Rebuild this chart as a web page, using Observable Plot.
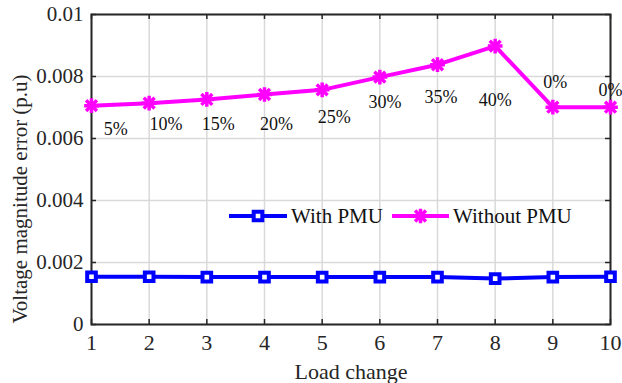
<!DOCTYPE html>
<html>
<head>
<meta charset="utf-8">
<script src="https://cdn.jsdelivr.net/npm/d3@7"></script>
<script src="https://cdn.jsdelivr.net/npm/@observablehq/plot@0.6"></script>
<style>
  html, body { margin: 0; padding: 0; background: #fff; }
  #chart { position: relative; width: 622px; height: 383px; }
</style>
</head>
<body>
<div id="chart"></div>
<script>
// ---- data ----
const loadChange = [1, 2, 3, 4, 5, 6, 7, 8, 9, 10];
const withPMU = [0.00154, 0.00154, 0.00153, 0.00153, 0.00153, 0.00153, 0.00153, 0.00148, 0.00153, 0.00154];
const withoutPMU = [0.00706, 0.00714, 0.00726, 0.00742, 0.00757, 0.00798, 0.00838, 0.00898, 0.00701, 0.00701];
const pctLabels = ["5%", "10%", "15%", "20%", "25%", "30%", "35%", "40%", "0%", "0%"];
const pctLabelX = [1.42, 2.29, 3.20, 4.21, 5.21, 6.09, 7.06, 8.00, 9.04, 10.0];
const pctLabelY = [0.00629, 0.00646, 0.00646, 0.00646, 0.00668, 0.00716, 0.00732, 0.00724, 0.00782, 0.00755];
const xTicks = [1, 2, 3, 4, 5, 6, 7, 8, 9, 10];
const yTicks = [0, 0.002, 0.004, 0.006, 0.008, 0.01];
const seriesNames = ["With PMU", "Without PMU"];
const xLabel = "Load change";
const yLabel = "Voltage magnitude error (p.u)";

// ---- layout ----
const W = 622, H = 383;
const mL = 91, mR = 12, mT = 14, mB = 59;
const innerW = W - mL - mR, innerH = H - mT - mB;
const blue = "#0000ff", magenta = "#ff00ff", axisColor = "#262626";
const font = "'Liberation Serif', 'Times New Roman', serif";

const rowsWith = loadChange.map((x, i) => ({x, y: withPMU[i]}));
const rowsWithout = loadChange.map((x, i) => ({x, y: withoutPMU[i]}));
const labelRows = pctLabels.map((t, i) => ({t, x: pctLabelX[i], y: pctLabelY[i]}));

const fmtY = d => String(+d.toFixed(3));

const plot = Plot.plot({
  width: W, height: H,
  marginLeft: mL, marginRight: mR, marginTop: mT, marginBottom: mB,
  style: {fontFamily: font, fontSize: "20px", color: "#262626", background: "white", overflow: "visible"},
  x: {domain: [1, 10]},
  y: {domain: [0, 0.01]},
  marks: [
    Plot.gridX(xTicks, {stroke: "#d9d9d9", strokeOpacity: 1, strokeWidth: 1.5}),
    Plot.gridY(yTicks, {stroke: "#d9d9d9", strokeOpacity: 1, strokeWidth: 1.5}),
    // inward ticks (bottom, top, left, right)
    Plot.tickX(xTicks, {x: d => d, insetTop: innerH - 5, stroke: axisColor, strokeWidth: 1.5}),
    Plot.tickX(xTicks, {x: d => d, insetBottom: innerH - 5, stroke: axisColor, strokeWidth: 1.5}),
    Plot.tickY(yTicks, {y: d => d, insetRight: innerW - 5, stroke: axisColor, strokeWidth: 1.5}),
    Plot.tickY(yTicks, {y: d => d, insetLeft: innerW - 5, stroke: axisColor, strokeWidth: 1.5}),
    Plot.frame({stroke: axisColor, strokeWidth: 2}),
    Plot.axisX(xTicks, {tickSize: 0, tickPadding: 10, label: xLabel, labelAnchor: "center", labelArrow: "none", labelOffset: 54, fill: "#262626", fontSize: 22}),
    Plot.axisY(yTicks, {tickSize: 0, tickPadding: 8, tickFormat: fmtY, label: null, fill: "#262626", fontSize: 21}),
    // series lines
    Plot.line(rowsWithout, {x: "x", y: "y", stroke: magenta, strokeWidth: 4}),
    Plot.line(rowsWith, {x: "x", y: "y", stroke: blue, strokeWidth: 4}),
    // markers
    Plot.dot(rowsWith, {x: "x", y: "y", symbol: "square2", r: 5.5, stroke: blue, strokeWidth: 4, fill: "white"}),
    Plot.dot(rowsWithout, {x: "x", y: "y", symbol: "plus", r: 4.8, stroke: magenta, strokeWidth: 3.5}),
    Plot.dot(rowsWithout, {x: "x", y: "y", symbol: "times", r: 5, stroke: magenta, strokeWidth: 3.5}),
    // percentage annotations
    Plot.text(labelRows, {x: "x", y: "y", text: "t", fill: "#111", fontSize: 18})
  ]
});
document.getElementById("chart").appendChild(plot);

const svg = d3.select(plot);

// ---- y-axis title ----
svg.append("text")
  .attr("transform", "translate(20,199) rotate(-90)")
  .attr("text-anchor", "middle")
  .attr("dominant-baseline", "central")
  .attr("font-family", font).attr("font-size", 21).attr("fill", "#262626")
  .text(yLabel);

// ---- legend (drawn into the SVG) ----
const lg = svg.append("g").attr("font-family", font).attr("font-size", 21).attr("fill", "#111").attr("text-anchor", "start");
const legendY = 216;
const items = [
  {name: seriesNames[0], x0: 229, x1: 287, color: blue, kind: "square"},
  {name: seriesNames[1], x0: 392, x1: 449, color: magenta, kind: "star"}
];
items.forEach(it => {
  lg.append("line").attr("x1", it.x0).attr("x2", it.x1).attr("y1", legendY).attr("y2", legendY)
    .attr("stroke", it.color).attr("stroke-width", 4);
  const cx = (it.x0 + it.x1) / 2;
  if (it.kind === "square") {
    lg.append("path").attr("d", d3.symbol(d3.symbolSquare2, Math.PI * 5.5 * 5.5)())
      .attr("transform", `translate(${cx},${legendY})`).attr("fill", "white").attr("stroke", it.color).attr("stroke-width", 4);
  } else {
    lg.append("path").attr("d", d3.symbol(d3.symbolPlus, Math.PI * 4.8 * 4.8)())
      .attr("transform", `translate(${cx},${legendY})`).attr("fill", "none").attr("stroke", it.color).attr("stroke-width", 3.5);
    lg.append("path").attr("d", d3.symbol(d3.symbolTimes, Math.PI * 5 * 5)())
      .attr("transform", `translate(${cx},${legendY})`).attr("fill", "none").attr("stroke", it.color).attr("stroke-width", 3.5);
  }
  lg.append("text").attr("x", it.x1 + 4).attr("y", legendY).attr("dy", "0.35em").text(it.name);
});
</script>
</body>
</html>
